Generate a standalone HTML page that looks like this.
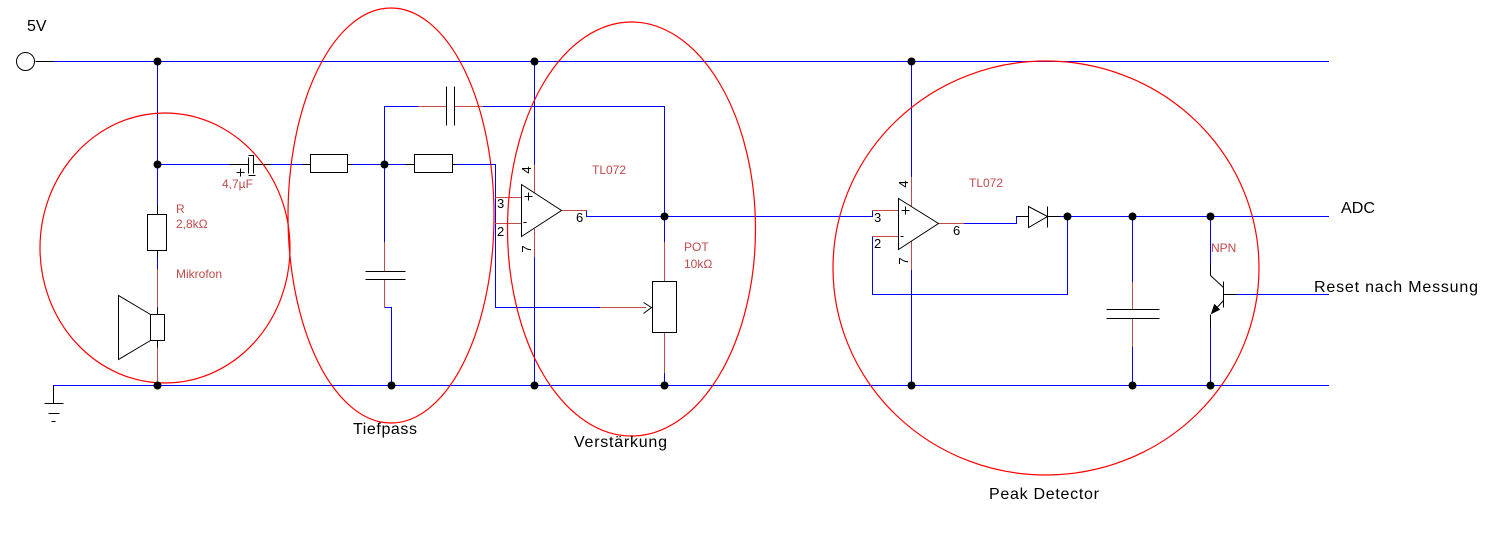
<!DOCTYPE html>
<html><head><meta charset="utf-8"><style>
html,body{margin:0;padding:0;background:#fff;}
svg{display:block;}
text{font-family:"Liberation Sans",Arial,sans-serif;}
.lb{font-size:12px;fill:#c24a4a;}
.pn{font-size:13px;fill:#000;}
.bg{font-size:16px;fill:#000;}
</style></head><body>
<svg width="1502" height="543" viewBox="0 0 1502 543" xmlns="http://www.w3.org/2000/svg">
<rect width="1502" height="543" fill="#fff"/>
<!-- blue wires as filled rects -->
<g fill="#0000ff" stroke="none">
<rect x="53" y="61" width="1276" height="1"/>
<rect x="53" y="385" width="1276" height="1"/>
<rect x="157" y="164" width="73" height="1"/>
<rect x="270" y="164" width="33" height="1"/>
<rect x="352" y="164" width="54" height="1"/>
<rect x="456" y="164" width="40" height="1"/>
<rect x="495" y="307" width="106" height="1"/>
<rect x="384" y="106" width="35" height="1"/>
<rect x="482" y="106" width="183" height="1"/>
<rect x="384" y="307" width="8" height="1"/>
<rect x="586" y="216" width="287" height="1"/>
<rect x="872" y="294" width="196" height="1"/>
<rect x="963" y="223" width="54" height="1"/>
<rect x="1060" y="216" width="269" height="1"/>
<rect x="1236" y="294" width="93" height="1"/>
<rect x="157" y="61" width="1" height="145"/>
<rect x="157" y="257" width="1" height="13"/>
<rect x="495" y="164" width="1" height="144"/>
<rect x="384" y="106" width="1" height="137"/>
<rect x="664" y="106" width="1" height="137"/>
<rect x="391" y="307" width="1" height="79"/>
<rect x="534" y="61" width="1" height="105"/>
<rect x="534" y="256" width="1" height="130"/>
<rect x="586" y="210" width="1" height="7"/>
<rect x="872" y="210" width="1" height="7"/>
<rect x="664" y="372" width="1" height="14"/>
<rect x="911" y="61" width="1" height="117"/>
<rect x="911" y="269" width="1" height="117"/>
<rect x="872" y="236" width="1" height="59"/>
<rect x="1067" y="216" width="1" height="79"/>
<rect x="1016" y="216" width="1" height="8"/>
<rect x="1132" y="216" width="1" height="67"/>
<rect x="1132" y="346" width="1" height="40"/>
<rect x="1210" y="216" width="1" height="48"/>
<rect x="1210" y="327" width="1" height="59"/>
</g>
<!-- red/brown wires -->
<g fill="#c24a4a" stroke="none">
<rect x="157" y="269" width="1" height="39"/>
<rect x="157" y="347" width="1" height="38"/>
<rect x="384" y="242" width="1" height="30"/>
<rect x="384" y="279" width="1" height="29"/>
<rect x="534" y="165" width="1" height="28"/>
<rect x="534" y="229" width="1" height="28"/>
<rect x="664" y="242" width="1" height="40"/>
<rect x="664" y="332" width="1" height="41"/>
<rect x="911" y="177" width="1" height="30"/>
<rect x="911" y="241" width="1" height="29"/>
<rect x="1132" y="282" width="1" height="28"/>
<rect x="1132" y="318" width="1" height="29"/>
<rect x="600" y="307" width="46" height="1"/>
<rect x="418" y="106" width="29" height="1"/>
<rect x="454" y="106" width="29" height="1"/>
<rect x="495" y="197" width="27" height="1"/>
<rect x="495" y="223" width="27" height="1"/>
<rect x="561" y="210" width="26" height="1"/>
<rect x="872" y="210" width="27" height="1"/>
<rect x="872" y="236" width="27" height="1"/>
<rect x="938" y="223" width="26" height="1"/>
</g>
<g transform="translate(0.5,0.5)" fill="none" stroke="#000" stroke-width="1">
<line x1="35" y1="61" x2="53" y2="61"/>
<line x1="53" y1="385" x2="53" y2="403"/>
<line x1="44" y1="403" x2="63" y2="403"/>
<line x1="48" y1="413" x2="59" y2="413"/>
<line x1="51" y1="421" x2="55" y2="421"/>
<line x1="157" y1="205" x2="157" y2="214"/>
<rect x="147" y="214" width="19" height="36"/>
<line x1="157" y1="250" x2="157" y2="257"/>
<line x1="157" y1="307" x2="157" y2="314"/>
<rect x="150" y="314" width="14" height="26"/>
<line x1="157" y1="340" x2="157" y2="347"/>
<polyline points="150,314 118,295 118,359 150,340"/>
<line x1="229" y1="164" x2="248" y2="164"/>
<line x1="248" y1="157" x2="248" y2="173"/>
<polyline points="248,155 253,155 253,173"/>
<line x1="248" y1="175" x2="255" y2="175"/>
<line x1="253" y1="164" x2="270" y2="164"/>
<line x1="236" y1="172" x2="244" y2="172"/>
<line x1="240" y1="168" x2="240" y2="176"/>
<line x1="302" y1="164" x2="310" y2="164"/>
<rect x="310" y="154" width="37" height="18"/>
<line x1="347" y1="164" x2="352" y2="164"/>
<line x1="405" y1="164" x2="414" y2="164"/>
<rect x="414" y="154" width="38" height="18"/>
<line x1="452" y1="164" x2="456" y2="164"/>
<line x1="446" y1="86" x2="446" y2="125"/>
<line x1="454" y1="86" x2="454" y2="125"/>
<line x1="365" y1="271" x2="405" y2="271"/>
<line x1="365" y1="279" x2="405" y2="279"/>
<polygon points="521,184 561,210 521,236"/>
<line x1="524" y1="196" x2="532" y2="196"/>
<line x1="528" y1="192" x2="528" y2="200"/>
<line x1="523" y1="222" x2="526" y2="222"/>
<rect x="652" y="281" width="24" height="51"/>
<polyline points="643,302 651,307 643,313"/>
<polygon points="898,198 938,223 898,249"/>
<line x1="901" y1="210" x2="909" y2="210"/>
<line x1="905" y1="206" x2="905" y2="214"/>
<line x1="900" y1="236" x2="903" y2="236"/>
<line x1="1016" y1="216" x2="1028" y2="216"/>
<polygon points="1028,206 1028,227 1047,216"/>
<line x1="1047" y1="206" x2="1047" y2="227"/>
<line x1="1047" y1="216" x2="1060" y2="216"/>
<line x1="1106" y1="309" x2="1159" y2="309"/>
<line x1="1106" y1="318" x2="1159" y2="318"/>
<line x1="1210" y1="263" x2="1210" y2="275"/>
<line x1="1210" y1="275" x2="1223" y2="287"/>
<line x1="1223" y1="281" x2="1223" y2="307"/>
<line x1="1223" y1="294" x2="1236" y2="294"/>
<line x1="1223" y1="300" x2="1211" y2="313"/>
<line x1="1210" y1="314" x2="1210" y2="327"/>
<polygon points="1211,313 1219,309 1214,304" fill="#000" stroke-width="0.8"/>
<circle cx="25" cy="61" r="9"/>
</g>
<g fill="none" stroke="#ff0000" stroke-width="1.2">
<ellipse cx="165" cy="248" rx="125" ry="135"/>
<ellipse cx="391" cy="215.5" rx="103" ry="207.5"/>
<ellipse cx="631.5" cy="229" rx="124" ry="207"/>
<ellipse cx="1046" cy="268" rx="213" ry="207"/>
</g>
<g fill="#000">
<circle cx="157.5" cy="61.5" r="4"/>
<circle cx="534.5" cy="61.5" r="4"/>
<circle cx="911.5" cy="61.5" r="4"/>
<circle cx="157.5" cy="164.5" r="4"/>
<circle cx="384.5" cy="164.5" r="4"/>
<circle cx="664.5" cy="216.5" r="4"/>
<circle cx="1067.5" cy="216.5" r="4"/>
<circle cx="1132.5" cy="216.5" r="4"/>
<circle cx="1210.5" cy="216.5" r="4"/>
<circle cx="157.5" cy="385.5" r="4"/>
<circle cx="391.5" cy="385.5" r="4"/>
<circle cx="534.5" cy="385.5" r="4"/>
<circle cx="664.5" cy="385.5" r="4"/>
<circle cx="911.5" cy="385.5" r="4"/>
<circle cx="1132.5" cy="385.5" r="4"/>
<circle cx="1210.5" cy="385.5" r="4"/>
</g>
<text class="bg" x="27" y="31">5V</text>
<text class="bg" x="1341" y="213" textLength="34" lengthAdjust="spacingAndGlyphs">ADC</text>
<text class="bg" x="1314" y="292" textLength="164" lengthAdjust="spacing">Reset nach Messung</text>
<text class="bg" x="353" y="434" textLength="64" lengthAdjust="spacing">Tiefpass</text>
<text class="bg" x="574" y="447" textLength="93" lengthAdjust="spacing">Verstärkung</text>
<text class="bg" x="989" y="499" textLength="110" lengthAdjust="spacing">Peak Detector</text>
<text class="lb" x="176" y="213">R</text>
<text class="lb" x="176" y="228">2,8kΩ</text>
<text class="lb" x="176" y="278">Mikrofon</text>
<text class="lb" x="222" y="188">4,7µF</text>
<text class="lb" x="592" y="174">TL072</text>
<text class="lb" x="969" y="187">TL072</text>
<text class="lb" x="684" y="251">POT</text>
<text class="lb" x="684" y="268">10kΩ</text>
<text class="lb" x="1211" y="252">NPN</text>
<text class="pn" x="497" y="208">3</text>
<text class="pn" x="497" y="236">2</text>
<text class="pn" x="576" y="222">6</text>
<text class="pn" x="874" y="222">3</text>
<text class="pn" x="874" y="248">2</text>
<text class="pn" x="953" y="235">6</text>
<text class="pn" text-anchor="middle" transform="translate(531,170) rotate(-90)">4</text>
<text class="pn" text-anchor="middle" transform="translate(531,249) rotate(-90)">7</text>
<text class="pn" text-anchor="middle" transform="translate(908,184) rotate(-90)">4</text>
<text class="pn" text-anchor="middle" transform="translate(908,261) rotate(-90)">7</text>
</svg>
</body></html>
